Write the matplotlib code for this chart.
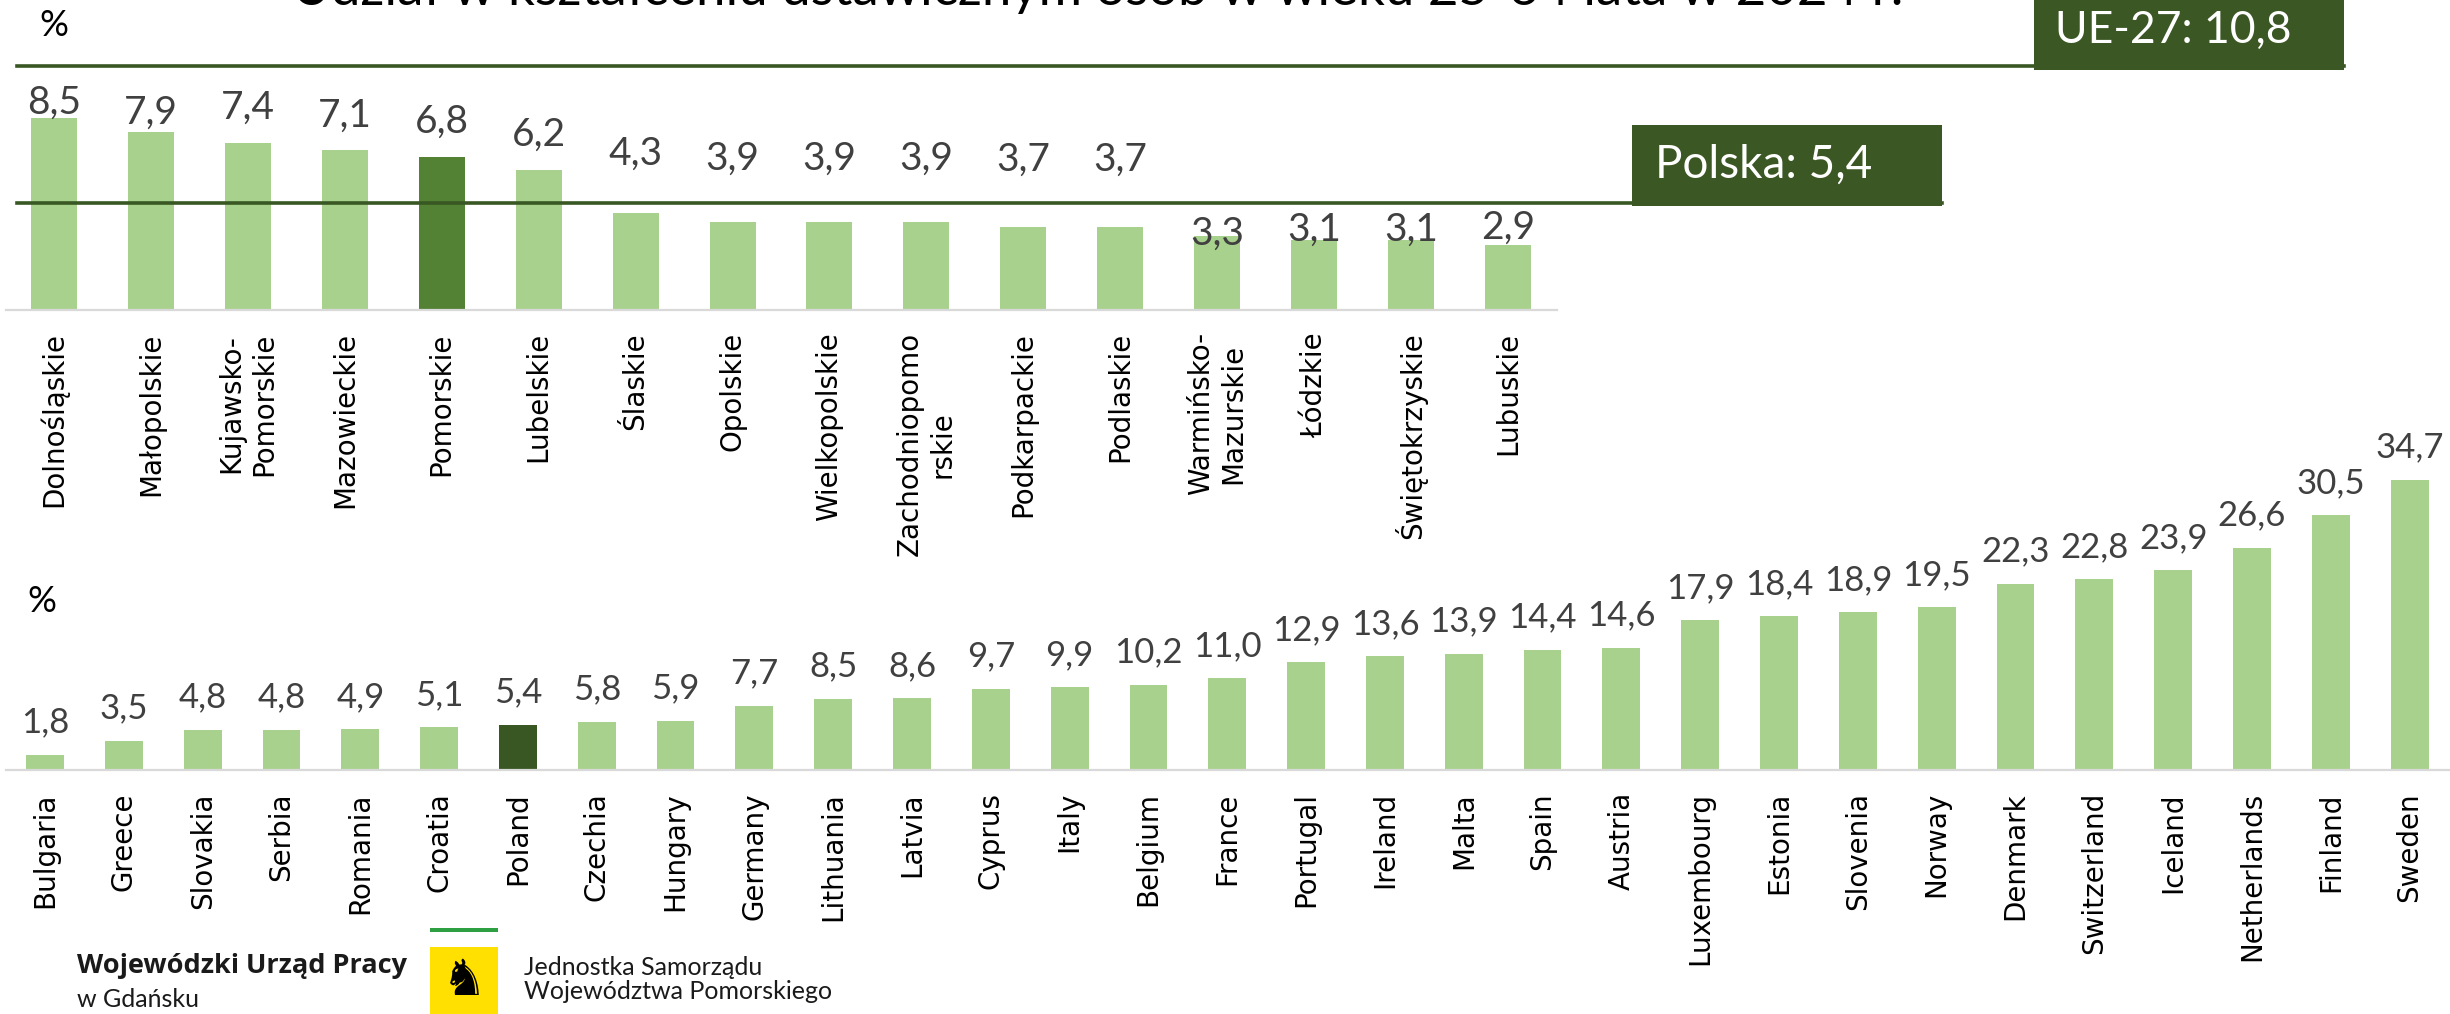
import numpy as np
import matplotlib
matplotlib.use("Agg")
import matplotlib.pyplot as plt
from matplotlib.patches import Rectangle
from matplotlib.transforms import blended_transform_factory

# Dane - województwa
regions = ["Dolnośląskie", "Małopolskie", "Kujawsko-\nPomorskie", "Mazowieckie",
           "Pomorskie", "Lubelskie", "Ślaskie", "Opolskie", "Wielkopolskie",
           "Zachodniopomo\nrskie", "Podkarpackie", "Podlaskie", "Warmińsko-\nMazurskie",
           "Łódzkie", "Świętokrzyskie", "Lubuskie"]
region_vals = [8.5, 7.9, 7.4, 7.1, 6.8, 6.2, 4.3, 3.9, 3.9, 3.9, 3.7, 3.7, 3.3, 3.1, 3.1, 2.9]
# przesunięcia etykiet nad słupkami (px), ręcznie ustawione w oryginale
region_nudge = [5, 8, 24, 23, 24, 24, 48, 52, 52, 52, 56, 56, -9, -1, -1, 6]

# Dane - kraje
countries = ["Bulgaria", "Greece", "Slovakia", "Serbia", "Romania", "Croatia", "Poland",
             "Czechia", "Hungary", "Germany", "Lithuania", "Latvia", "Cyprus", "Italy",
             "Belgium", "France", "Portugal", "Ireland", "Malta", "Spain", "Austria",
             "Luxembourg", "Estonia", "Slovenia", "Norway", "Denmark", "Switzerland",
             "Iceland", "Netherlands", "Finland", "Sweden"]
country_vals = [1.8, 3.5, 4.8, 4.8, 4.9, 5.1, 5.4, 5.8, 5.9, 7.7, 8.5, 8.6, 9.7, 9.9,
                10.2, 11.0, 12.9, 13.6, 13.9, 14.4, 14.6, 17.9, 18.4, 18.9, 19.5, 22.3,
                22.8, 23.9, 26.6, 30.5, 34.7]

ue_val = 10.8
pl_val = 5.4
pl_line_level = 4.75  # linia w oryginale narysowana nieco niżej

title = "Udział w kształceniu ustawicznym osób w wieku 25-64 lata w 2024 r."

# Kolory
light = "#a9d18e"
pom = "#548235"
dark = "#385723"
lab = "#404040"

W, H = 2450, 1014
fig = plt.figure(figsize=(W / 100, H / 100), dpi=100)

def fx(px):
    return px / W

def fy(py):
    return 1 - py / H

def fmt(v):
    return f"{v:.1f}".replace(".", ",")

# --- gorny wykres ---
ax1 = fig.add_axes([fx(5.5), fy(310), (1556.5 - 5.5) / W, 310 / H])
x1 = np.arange(len(regions))
c1 = [pom if r == "Pomorskie" else light for r in regions]
ax1.bar(x1, region_vals, width=0.475, color=c1, zorder=2)
ax1.set_xlim(-0.5, len(regions) - 0.5)
ax1.set_ylim(0, 310 / 22.55)
for i, v in enumerate(region_vals):
    ax1.annotate(fmt(v), (i, v), xytext=(0, region_nudge[i] * 0.72), textcoords="offset points",
                 ha="center", va="baseline", fontsize=28, family="Lato", color=lab, zorder=5)

# --- dolny wykres ---
ax2 = fig.add_axes([fx(5.6), fy(770), (2449 - 5.6) / W, 40 * 8.36 / H])
x2 = np.arange(len(countries))
c2 = [dark if c == "Poland" else light for c in countries]
ax2.bar(x2, country_vals, width=0.48, color=c2, zorder=2)
ax2.set_xlim(-0.5, len(countries) - 0.5)
ax2.set_ylim(0, 40)
for i, v in enumerate(country_vals):
    ax2.annotate(fmt(v), (i, v), xytext=(0, 16), textcoords="offset points",
                 ha="center", va="baseline", fontsize=25, family="Lato", color=lab)

for ax, labels, xs in [(ax1, regions, x1), (ax2, countries, x2)]:
    for s in ["top", "right", "left"]:
        ax.spines[s].set_visible(False)
    ax.spines["bottom"].set_color("#d9d9d9")
    ax.spines["bottom"].set_linewidth(1.6)
    ax.set_yticks([])
    ax.set_xticks(xs)
    ax.set_xticklabels(labels, rotation=90, fontsize=20, family="DejaVu Sans",
                       multialignment="center")
    ax.tick_params(axis="x", length=0, pad=16)
    ax.patch.set_alpha(0)

# linie odniesienia
tr = blended_transform_factory(fig.transFigure, ax1.transData)
ax1.plot([fx(17), fx(2344)], [ue_val, ue_val], transform=tr, color=dark, lw=2.6,
         clip_on=False, zorder=4)
ax1.plot([fx(17), fx(1942)], [pl_line_level, pl_line_level], transform=tr, color=dark,
         lw=2.6, clip_on=False, zorder=4)

# ramki z wartościami
fig.patches.append(Rectangle((fx(2034), fy(70)), 310 / W, 70 / H, transform=fig.transFigure,
                             facecolor="#3b5724", edgecolor="none", zorder=5))
fig.patches.append(Rectangle((fx(1632), fy(206)), 310 / W, 81 / H, transform=fig.transFigure,
                             facecolor="#3b5724", edgecolor="none", zorder=5))
fig.text(fx(2055), fy(43), "UE-27: " + fmt(ue_val), fontsize=32, family="Lato",
         color="white", va="baseline", ha="left", zorder=6)
fig.text(fx(1655), fy(178), "Polska: " + fmt(pl_val), fontsize=33, family="Lato",
         color="white", va="baseline", ha="left", zorder=6)

# tytuł (przycięty u góry, jak w oryginale)
fig.text(fx(1098), fy(5), title, fontsize=38, family="Lato", color="black",
         ha="center", va="baseline")

# znaki %
fig.text(fx(39), fy(36), "%", fontsize=26, family="Lato", va="baseline", ha="left")
fig.text(fx(27), fy(612), "%", fontsize=26, family="Lato", va="baseline", ha="left")

# stopka z logo
fig.text(fx(77), fy(973), "Wojewódzki Urząd Pracy", fontsize=19.5, family="Open Sans",
         weight="bold", color="#1a1a1a", va="baseline")
fig.text(fx(77), fy(1007), "w Gdańsku", fontsize=18, family="Lato", color="#1a1a1a",
         va="baseline")
fig.text(fx(524), fy(975), "Jednostka Samorządu", fontsize=18, family="Lato",
         color="#1a1a1a", va="baseline")
fig.text(fx(524), fy(999), "Województwa Pomorskiego", fontsize=18, family="Lato",
         color="#1a1a1a", va="baseline")
fig.patches.append(Rectangle((fx(430), fy(932)), 68 / W, 4 / H, transform=fig.transFigure,
                             facecolor="#2ea043", edgecolor="none"))
fig.patches.append(Rectangle((fx(430), fy(1014)), 68 / W, 67 / H, transform=fig.transFigure,
                             facecolor="#ffe000", edgecolor="none"))
fig.text(fx(464), fy(981), "\u265e", fontsize=36, family="DejaVu Sans", color="black",
         ha="center", va="center")

fig.savefig("out.png", dpi=100)
